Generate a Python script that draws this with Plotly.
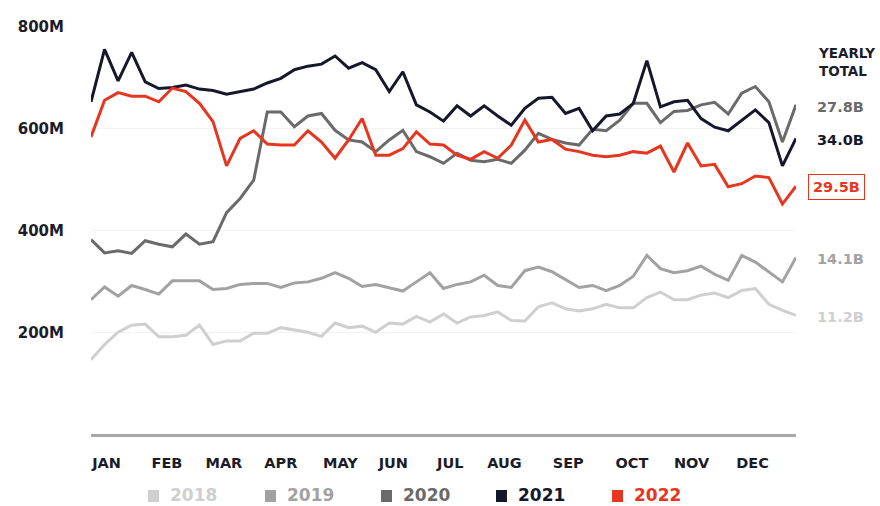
import plotly.graph_objects as go

# ---------------- data ----------------
weeks = list(range(53))
years = ["2018", "2019", "2020", "2021", "2022"]
totals = ["11.2B", "14.1B", "27.8B", "34.0B", "29.5B"]

y2018 = [146, 176, 200, 214, 216, 191, 191, 194, 214, 176, 183, 183, 198, 198, 209, 205, 200, 192,
         218, 209, 212, 200, 218, 216, 231, 220, 236,
         218, 230, 233, 240, 223, 222, 250, 258, 246, 242, 246, 255, 248, 248, 268, 279, 264, 264,
         273, 277, 268, 282, 286, 255, 243, 233]
y2019 = [264, 289, 271, 292, 284, 275, 301, 301, 301, 284, 286, 294, 296, 296, 288, 297, 299, 306,
         317, 306, 290, 294, 288, 281, 299, 317, 286,
         294, 299, 312, 292, 288, 321, 328, 319, 303, 288, 292, 282, 292, 310, 351, 325, 317, 321,
         330, 314, 302, 351, 338, 319, 299, 347]
y2020 = [382, 356, 360, 355, 380, 373, 368, 393, 373, 378, 435, 463, 499, 633, 633, 604, 625, 630,
         597, 578, 574, 555, 578, 597, 555, 545, 532, 552, 538, 535, 540, 532, 558, 591, 579, 572,
         568, 599, 596, 617, 650, 650, 612, 634, 636, 647, 652, 629, 670, 683, 653, 574, 647]
y2021 = [653, 756, 694, 750, 692, 679, 681, 686, 678, 675, 668, 673, 678, 690, 699, 716, 723, 727,
         743, 719, 730, 716, 673, 712, 647, 633, 615, 645, 625, 645, 625, 607, 640, 660, 662, 630,
         640, 596, 625, 629, 650, 734, 643, 653, 656, 620, 603, 596, 617, 637, 612, 527, 581]
y2022 = [584, 656, 671, 664, 664, 653, 680, 673, 650, 614, 527, 581, 596, 570, 568, 568, 596, 574,
         542, 578, 620, 548, 548, 561, 594, 570, 568, 548, 540, 555, 542, 568, 617, 574, 579, 560,
         555, 548, 545, 548, 555, 552, 566, 515, 572, 527, 530, 486, 492, 507, 504, 452, 487]

months = ["JAN", "FEB", "MAR", "APR", "MAY", "JUN", "JUL", "AUG", "SEP", "OCT", "NOV", "DEC"]
month_pos = [1.15, 5.6, 9.8, 14.0, 18.4, 22.3, 26.5, 30.5, 35.2, 39.9, 44.3, 48.8]

y_ticks = [200, 400, 600, 800]
y_tick_text = ["200M", "400M", "600M", "800M"]

colors = ["#cfcfcf", "#a2a2a2", "#6a6a6a", "#17172b", "#e6361f"]
series = [y2018, y2019, y2020, y2021, y2022]

FONT = "DejaVu Sans"
DARK = "#1c1c28"

# plot area in pixels
L, R, T, B = 91, 796, 27, 434
W, H = 880, 506


def px(x):
    return (x - L) / (R - L)


def py(y):
    return (B - y) / (B - T)


fig = go.Figure()
for name, ys, c in zip(years, series, colors):
    fig.add_trace(go.Scatter(x=weeks, y=ys, mode="lines", name=name,
                             line=dict(color=c, width=3), cliponaxis=False,
                             showlegend=False))

annotations = []
# yearly totals at line ends
for name, ys, c, t in zip(years, series, colors, totals):
    if name == "2022":
        annotations.append(dict(x=weeks[-1], y=ys[-1], xref="x", yref="y", text=t,
                                showarrow=False, xanchor="left", xshift=12, yshift=-1,
                                font=dict(family=FONT, size=14.5, color=c, weight="bold"),
                                bordercolor=c, borderwidth=1, borderpad=4, bgcolor="white"))
    else:
        annotations.append(dict(x=weeks[-1], y=ys[-1], xref="x", yref="y", text=t,
                                showarrow=False, xanchor="left", xshift=19, yshift=-2,
                                font=dict(family=FONT, size=14.5, color=c, weight="bold")))

annotations.append(dict(x=px(816), y=py(62), xref="paper", yref="paper",
                        text="YEARLY<br>TOTAL", showarrow=False, xanchor="left",
                        yanchor="middle", align="left",
                        font=dict(family=FONT, size=13.5, color=DARK, weight="bold")))

# legend built from shapes + text
legend_sq_x = [148, 265, 381, 496, 612]
legend_tx_x = [168, 285, 401, 516, 632]
shapes = []
for name, c, sx, tx in zip(years, colors, legend_sq_x, legend_tx_x):
    shapes.append(dict(type="rect", xref="paper", yref="paper",
                       x0=px(sx), x1=px(sx + 11), y0=py(502), y1=py(490),
                       fillcolor=c, line=dict(width=0)))
    annotations.append(dict(x=px(tx), y=py(494.5), xref="paper", yref="paper", text=name,
                            showarrow=False, xanchor="left", yanchor="middle",
                            font=dict(family=FONT, size=17, color=c, weight="bold")))

fig.update_layout(
    width=W, height=H,
    margin=dict(l=L, r=W - R, t=T, b=H - B, pad=0),
    paper_bgcolor="white", plot_bgcolor="white",
    showlegend=False,
    annotations=annotations,
    shapes=shapes,
    xaxis=dict(range=[0, 52], tickvals=month_pos, ticktext=months, showgrid=False,
               zeroline=False, showline=True, linecolor="#a8a8a8", linewidth=3,
               ticks="", ticklabelstandoff=14,
               tickfont=dict(family=FONT, size=14.5, color=DARK, weight="bold")),
    yaxis=dict(range=[0, 800], tickvals=y_ticks, ticktext=y_tick_text, showgrid=True,
               gridcolor="#f3f3f3", gridwidth=1, zeroline=False, showline=False,
               ticks="", ticklabelstandoff=26,
               tickfont=dict(family=FONT, size=15, color=DARK, weight="bold")),
)

fig.write_html("out.html")
